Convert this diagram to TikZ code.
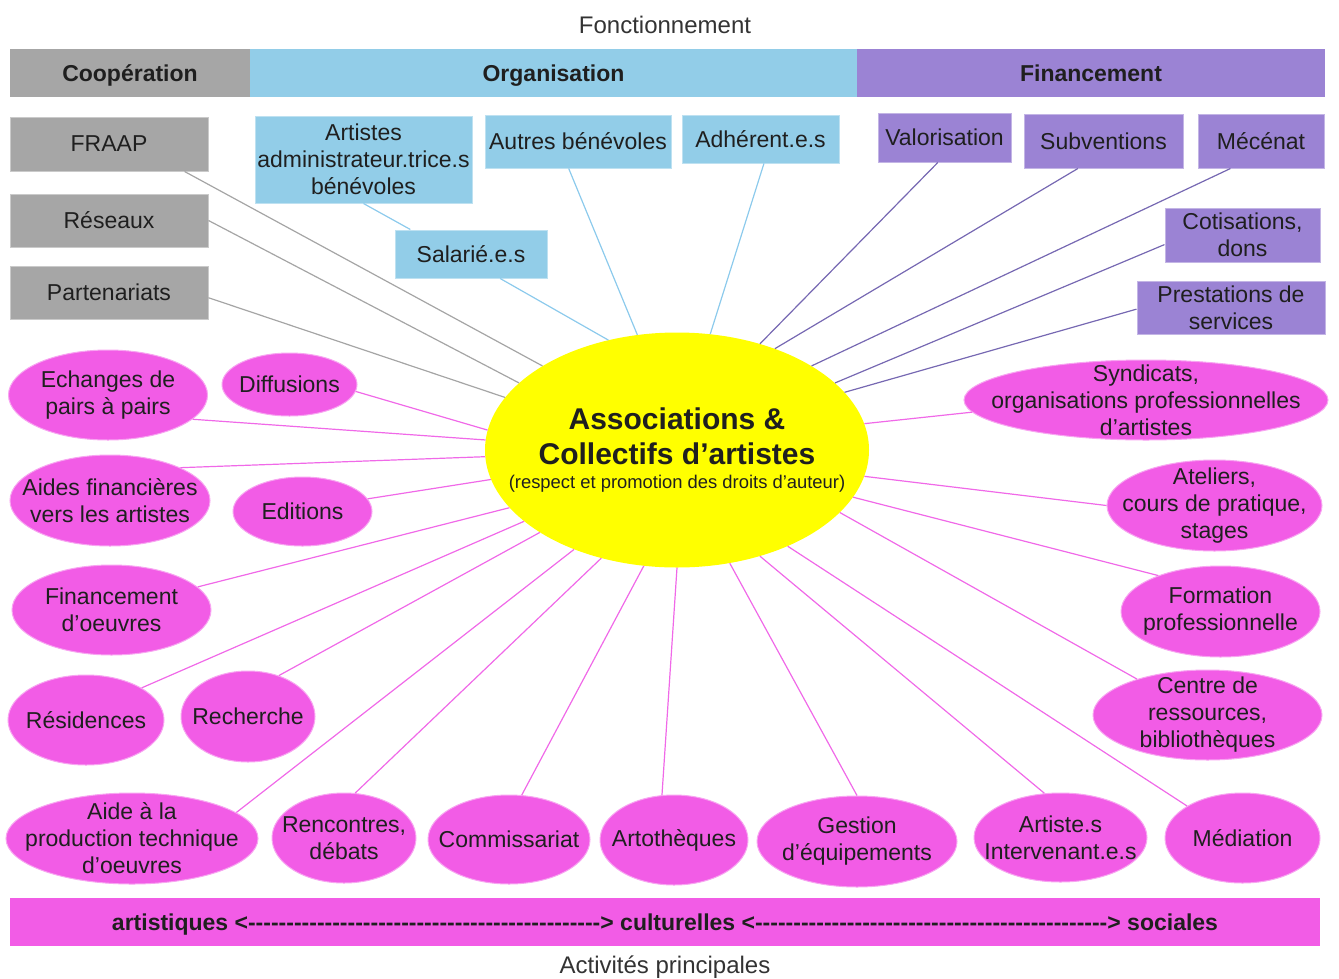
\documentclass[tikz,border=0pt]{standalone}
\usepackage{fontspec}
\setmainfont{Liberation Sans}
\usetikzlibrary{shapes.geometric}
\definecolor{coopgrey}{RGB}{166,166,166}
\definecolor{orgblue}{RGB}{146,205,232}
\definecolor{finpurple}{RGB}{155,131,212}
\definecolor{actpink}{RGB}{242,92,230}
\definecolor{hubyellow}{RGB}{255,255,0}
\definecolor{coopline}{RGB}{165,165,165}
\definecolor{orgline}{RGB}{140,202,236}
\definecolor{finline}{RGB}{118,104,178}
\definecolor{actline}{RGB}{240,105,232}
\newcommand\dashrun{\foreach \i in {1,...,46}{-}}

\begin{document}
\begin{tikzpicture}[x=1pt,y=1pt,yscale=-1,
	every node/.style={font=\fontsize{23}{27}\selectfont, text=black!88, align=center},
	header/.style={rectangle, inner sep=0pt, minimum height=48pt, text height=16pt, text depth=0pt, font=\fontsize{23}{27}\selectfont\bfseries},
	caption/.style={font=\fontsize{24}{28}\selectfont, text=black!80},
	coopbox/.style={rectangle, fill=coopgrey, draw=coopgrey!60!white, line width=1pt, inner sep=-10pt},
	orgbox/.style={rectangle, fill=orgblue, draw=orgblue!60!white, line width=1pt, inner sep=-10pt},
	finbox/.style={rectangle, fill=finpurple, draw=finpurple!60!white, line width=1pt, inner sep=-10pt},
	activ/.style={ellipse, fill=actpink, draw=actpink!55!white, line width=1pt, inner sep=-50pt},
	hub/.style={ellipse, fill=hubyellow, inner sep=-60pt, minimum width=384pt, minimum height=235pt, font=\fontsize{30}{34}\selectfont\bfseries},
	cooplink/.style={draw=coopline, line width=1.2pt},
	orglink/.style={draw=orgline, line width=1.2pt},
	finlink/.style={draw=finline, line width=1.2pt},
	actlink/.style={draw=actline, line width=1.2pt}]
	\useasboundingbox (0,0) rectangle (1339,978);
	\node[caption] (fonct) at (665,25) {Fonctionnement};
	\node[caption] (activp) at (665,967) {Activités principales};
	\node[header, fill=coopgrey, minimum width=240pt] (coop) at (130,73) {Coopération};
	\node[header, fill=orgblue, minimum width=607pt] (orga) at (553.5,73) {Organisation};
	\node[header, fill=finpurple, minimum width=468pt] (finan) at (1091,73) {Financement};
	\node[header, fill=actpink, minimum width=1310pt] (axis) at (665,922) {artistiques <\dashrun> culturelles <\dashrun> sociales};
	\node[hub] (hub) at (677,450) {Associations \&\\[1pt] Collectifs d’artistes\\[-10pt] \fontsize{18.4}{22}\selectfont\mdseries (respect et promotion des droits d’auteur)};
	% cooperation
	\node[coopbox, minimum width=198pt, minimum height=54pt] (fraap) at (109,144) {FRAAP};
	\node[coopbox, minimum width=198pt, minimum height=53pt] (reseaux) at (109,220.5) {Réseaux};
	\node[coopbox, minimum width=198pt, minimum height=53pt] (parten) at (109,292.5) {Partenariats};
	% organisation
	\node[orgbox, minimum width=217pt, minimum height=87pt] (artadm) at (363.5,159.5) {Artistes\\administrateur.trice.s\\bénévoles};
	\node[orgbox, minimum width=186pt, minimum height=53pt] (autres) at (578,141.5) {Autres bénévoles};
	\node[orgbox, minimum width=157pt, minimum height=48pt] (adher) at (760.5,139) {Adhérent.e.s};
	\node[orgbox, minimum width=152pt, minimum height=48pt] (salarie) at (471,254) {Salarié.e.s};
	% financement
	\node[finbox, minimum width=133pt, minimum height=49pt] (valor) at (944.5,137.5) {Valorisation};
	\node[finbox, minimum width=159pt, minimum height=54pt] (subv) at (1103.5,141) {Subventions};
	\node[finbox, minimum width=126pt, minimum height=54pt] (mecenat) at (1261,141) {Mécénat};
	\node[finbox, minimum width=155pt, minimum height=54pt] (cotis) at (1242.5,235) {Cotisations,\\dons};
	\node[finbox, minimum width=188pt, minimum height=53pt] (presta) at (1231,307.5) {Prestations de\\services};
	% activites
	\node[activ, minimum width=199pt, minimum height=90pt] (echanges) at (108,395) {Echanges de\\pairs à pairs};
	\node[activ, minimum width=135pt, minimum height=63pt] (diffus) at (289.5,384.5) {Diffusions};
	\node[activ, minimum width=200pt, minimum height=91pt] (aidesfin) at (110,500.5) {Aides financières\\vers les artistes};
	\node[activ, minimum width=139pt, minimum height=69pt] (editions) at (302.5,511.5) {Editions};
	\node[activ, minimum width=199pt, minimum height=90pt] (finoeuv) at (111.5,610) {Financement\\d’oeuvres};
	\node[activ, minimum width=156pt, minimum height=90pt] (resid) at (86,720) {Résidences};
	\node[activ, minimum width=134pt, minimum height=91pt] (recher) at (248,716.5) {Recherche};
	\node[activ, minimum width=252pt, minimum height=91pt] (aideprod) at (132,838.5) {Aide à la\\production technique\\d’oeuvres};
	\node[activ, minimum width=144pt, minimum height=90pt] (renc) at (344,838) {Rencontres,\\débats};
	\node[activ, minimum width=162pt, minimum height=89pt] (commiss) at (509,839.5) {Commissariat};
	\node[activ, minimum width=148pt, minimum height=90pt] (artoth) at (674,840) {Artothèques};
	\node[activ, minimum width=200pt, minimum height=91pt] (gestion) at (857,841.5) {Gestion\\d’équipements};
	\node[activ, minimum width=173pt, minimum height=89pt] (artint) at (1060.5,837.5) {Artiste.s\\Intervenant.e.s};
	\node[activ, minimum width=155pt, minimum height=90pt] (mediat) at (1242.5,838) {Médiation};
	\node[activ, minimum width=364pt, minimum height=80pt] (syndic) at (1146,400) {Syndicats,\\organisations professionnelles\\d’artistes};
	\node[activ, minimum width=215pt, minimum height=91pt] (atel) at (1214.5,505.5) {Ateliers,\\cours de pratique,\\stages};
	\node[activ, minimum width=199pt, minimum height=91pt] (formpro) at (1220.5,611.5) {Formation\\professionnelle};
	\node[activ, minimum width=229pt, minimum height=90pt] (centre) at (1207.5,715) {Centre de\\ressources,\\bibliothèques};
	% liens
	\draw[cooplink] (fraap.340) -- (hub.148);
	\draw[cooplink] (reseaux.0) -- (hub.157);
	\draw[cooplink] (parten.357) -- (hub.163);
	\draw[orglink] (artadm.south) -- (salarie.158);
	\draw[orglink] (salarie.320) -- (hub.122);
	\draw[orglink] (autres.251) -- (hub.109);
	\draw[orglink] (adher.278) -- (hub.74);
	\draw[finlink] (valor.255) -- (hub.52);
	\draw[finlink] (subv.227) -- (hub.46);
	\draw[finlink] (mecenat.222) -- (hub.32);
	\draw[finlink] (cotis.187) -- (hub.23);
	\draw[finlink] (presta.181) -- (hub.19);
	\draw[actlink] (echanges.344) -- (hub.177);
	\draw[actlink] (diffus.354) -- (hub.174);
	\draw[actlink] (aidesfin.25) -- (hub.182);
	\draw[actlink] (editions.11) -- (hub.189);
	\draw[actlink] (finoeuv.15) -- (hub.199);
	\draw[actlink] (resid.30) -- (hub.205);
	\draw[actlink] (recher.53) -- (hub.211);
	\draw[actlink] (aideprod.14) -- (hub.224);
	\draw[actlink] (renc.76) -- (hub.235);
	\draw[actlink] (commiss.74) -- (hub.254);
	\draw[actlink] (artoth.105) -- (hub.270);
	\draw[actlink] (gestion.90) -- (hub.295);
	\draw[actlink] (artint.110) -- (hub.308);
	\draw[actlink] (mediat.150) -- (hub.319);
	\draw[actlink] (centre.153) -- (hub.339);
	\draw[actlink] (formpro.150) -- (hub.345);
	\draw[actlink] (atel.180) -- (hub.352);
	\draw[actlink] (syndic.184) -- (hub.8);
\end{tikzpicture}
\end{document}
